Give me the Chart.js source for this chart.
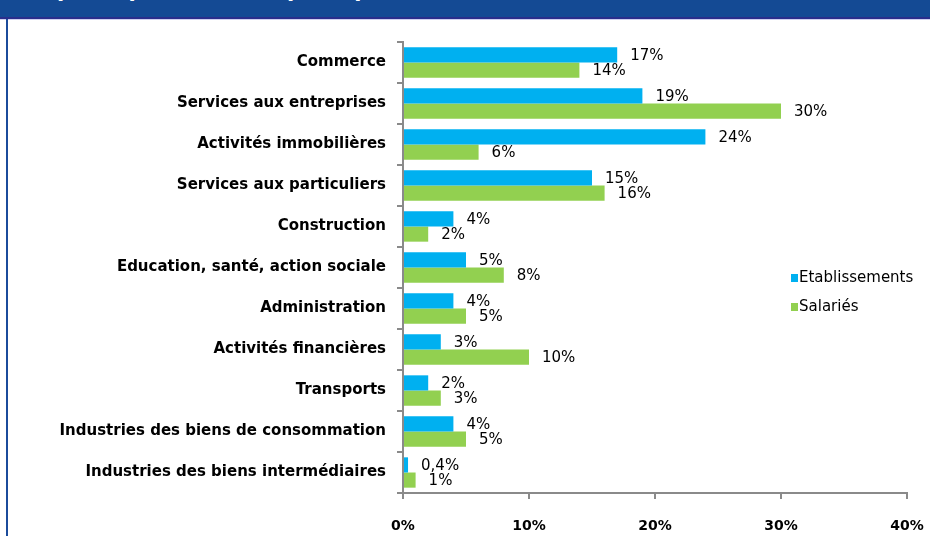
<!DOCTYPE html>
<html>
<head>
<meta charset="utf-8">
<script src="https://cdn.jsdelivr.net/npm/chart.js@4"></script>
<style>
  html, body { margin: 0; padding: 0; background: #fff; }
  #wrap { position: relative; width: 930px; height: 536px; overflow: hidden; }
  #header { position: absolute; left: 0; top: 0; width: 930px; height: 17px; background: #144a94;
            border-bottom: 2px solid #2a2e8c; overflow: hidden; }
  #header span { position: absolute; left: 22px; top: -22px; color: #fff; font: bold 21px "DejaVu Sans", sans-serif; white-space: nowrap; }
  #hline { position: absolute; left: 0; top: 19px; width: 930px; height: 1px; background: #cfd0f0; }
  #lborder { position: absolute; left: 6px; top: 19px; width: 2px; height: 517px; background: #1b4b9b; }
  #c { position: absolute; left: 0; top: 0; }
</style>
</head>
<body>
<div id="wrap">
  <canvas id="c" width="930" height="536"></canvas>
  <div id="header"><span>Le poids par secteur : principaux secteurs</span></div>
  <div id="hline"></div>
  <div id="lborder"></div>
</div>
<script>
// secteurs, de haut en bas
const categories = [
  'Commerce',
  'Services aux entreprises',
  'Activités immobilières',
  'Services aux particuliers',
  'Construction',
  'Education, santé, action sociale',
  'Administration',
  'Activités financières',
  'Transports',
  'Industries des biens de consommation',
  'Industries des biens intermédiaires'
];
const etablissements = [17, 19, 24, 15, 4, 5, 4, 3, 2, 4, 0.4];
const salaries = [14, 30, 6, 16, 2, 8, 5, 10, 3, 5, 1];
const xTicks = [0, 10, 20, 30, 40];

const blue = '#00b0f0';
const green = '#92d050';
const axisGrey = '#8a8a8a';

function fmtPct(v) {
  return String(v).replace('.', ',') + '%';
}

// étiquettes de valeurs à droite des barres
const valueLabels = {
  id: 'valueLabels',
  afterDatasetsDraw(chart) {
    const ctx = chart.ctx;
    ctx.save();
    ctx.font = '15px "DejaVu Sans", sans-serif';
    ctx.fillStyle = '#000';
    ctx.textAlign = 'left';
    ctx.textBaseline = 'middle';
    chart.data.datasets.forEach((ds, i) => {
      const meta = chart.getDatasetMeta(i);
      meta.data.forEach((bar, j) => {
        ctx.fillText(fmtPct(ds.data[j]), bar.x + 13, bar.y + 1);
      });
    });
    ctx.restore();
  }
};

// légende à droite, dans la zone du graphique
const sideLegend = {
  id: 'sideLegend',
  afterDraw(chart) {
    const ctx = chart.ctx;
    ctx.save();
    ctx.font = '15px "DejaVu Sans", sans-serif';
    ctx.textBaseline = 'middle';
    ctx.textAlign = 'left';
    chart.data.datasets.forEach((ds, i) => {
      const y = 278 + i * 29;
      ctx.fillStyle = ds.backgroundColor;
      ctx.fillRect(791, y - 4, 7, 8);
      ctx.fillStyle = '#000';
      ctx.fillText(ds.label, 799, y);
    });
    ctx.restore();
  }
};

new Chart(document.getElementById('c'), {
  type: 'bar',
  data: {
    labels: categories,
    datasets: [
      { label: 'Etablissements', data: etablissements, backgroundColor: blue,
        categoryPercentage: 0.74, barPercentage: 1 },
      { label: 'Salariés', data: salaries, backgroundColor: green,
        categoryPercentage: 0.74, barPercentage: 1 }
    ]
  },
  options: {
    indexAxis: 'y',
    responsive: false,
    animation: false,
    layout: { padding: { top: 42, right: 23, bottom: 0, left: 0 } },
    plugins: {
      legend: { display: false },
      tooltip: { enabled: false }
    },
    scales: {
      x: {
        min: 0,
        max: 40,
        afterBuildTicks(scale) {
          scale.ticks = xTicks.map(v => ({ value: v }));
        },
        afterFit(scale) {
          scale.height = 43;
          scale.paddingLeft = 0;
          scale.paddingRight = 0;
        },
        grid: { drawOnChartArea: false, drawTicks: true, tickLength: 6, color: axisGrey, lineWidth: 2 },
        border: { display: true, color: axisGrey, width: 2 },
        ticks: {
          padding: 19,
          maxRotation: 0,
          minRotation: 0,
          color: '#000',
          font: { family: '"DejaVu Sans", sans-serif', size: 14, weight: 'bold' },
          callback: v => v + '%'
        }
      },
      y: {
        afterFit(scale) {
          scale.width = 403;
          scale.paddingTop = 0;
          scale.paddingBottom = 0;
        },
        grid: { drawOnChartArea: false, drawTicks: true, tickLength: 6, color: axisGrey, lineWidth: 2, offset: true },
        border: { display: true, color: axisGrey, width: 2 },
        ticks: {
          padding: 11,
          color: '#000',
          autoSkip: false,
          font: { family: '"DejaVu Sans", sans-serif', size: 15, weight: 'bold' }
        }
      }
    }
  },
  plugins: [valueLabels, sideLegend]
});
</script>
</body>
</html>
